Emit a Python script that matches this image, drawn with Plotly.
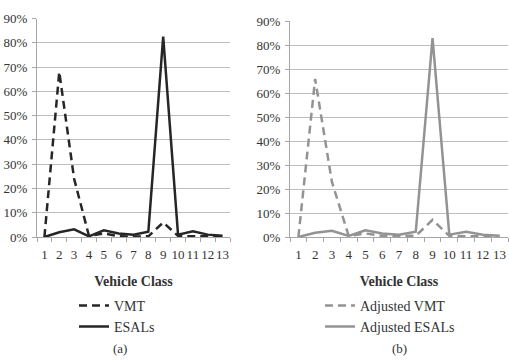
import plotly.graph_objects as go

classes = list(range(1, 14))
class_labels = [str(c) for c in classes]
vmt = [0.0, 68.0, 24.0, 0.5, 1.5, 0.3, 0.2, 0.3, 6.0, 0.5, 0.3, 0.2, 0.3]
esals = [0.0, 2.0, 3.2, 0.3, 2.8, 1.5, 1.0, 2.2, 82.5, 1.0, 2.4, 1.0, 0.5]
adj_vmt = [0.0, 66.0, 23.0, 0.5, 1.5, 0.5, 0.5, 0.5, 7.2, 0.5, 0.3, 0.2, 0.3]
adj_esals = [0.0, 1.8, 2.6, 0.5, 2.8, 1.5, 1.0, 2.2, 83.0, 1.0, 2.2, 1.0, 0.5]
y_ticks = [0, 10, 20, 30, 40, 50, 60, 70, 80, 90]

W, H = 509, 362
FONT = "Liberation Serif"
dark = "#262626"
gray = "#939393"
txt = "#333333"

fig = go.Figure()
fig.add_trace(go.Scatter(x=classes, y=[v / 100 for v in vmt], mode="lines", name="VMT",
                         line=dict(color=dark, width=2.5, dash="8px,5px"), xaxis="x", yaxis="y", legend="legend"))
fig.add_trace(go.Scatter(x=classes, y=[v / 100 for v in esals], mode="lines", name="ESALs",
                         line=dict(color=dark, width=2.5), xaxis="x", yaxis="y", legend="legend"))
fig.add_trace(go.Scatter(x=classes, y=[v / 100 for v in adj_vmt], mode="lines", name="Adjusted VMT",
                         line=dict(color=gray, width=2.5, dash="8px,5px"), xaxis="x2", yaxis="y2", legend="legend2"))
fig.add_trace(go.Scatter(x=classes, y=[v / 100 for v in adj_esals], mode="lines", name="Adjusted ESALs",
                         line=dict(color=gray, width=2.5), xaxis="x2", yaxis="y2", legend="legend2"))

def xax(domain, anchor):
    return dict(domain=domain, anchor=anchor, range=[0.5, 13.5], tickmode="array",
                tickvals=classes, ticktext=class_labels, ticks="", showgrid=False, tickangle=0,
                showline=True, linecolor="#a6a6a6", linewidth=1, zeroline=False,
                tickfont=dict(family=FONT, size=13, color=txt), ticklabelstandoff=5,
                minor=dict(tickmode="linear", tick0=0.5, dtick=1, ticks="outside", ticklen=4,
                           tickcolor="#a6a6a6", showgrid=False),
                title=dict(text="<b>Vehicle Class</b>", font=dict(family=FONT, size=14, color=txt), standoff=15),
                fixedrange=True)

def yax(domain, anchor):
    return dict(domain=domain, anchor=anchor, range=[0, 0.9], tickmode="array",
                tickvals=[t / 100 for t in y_ticks], ticktext=[f"{t}%" for t in y_ticks],
                ticks="outside", ticklen=4, tickcolor="#a6a6a6", showgrid=True, gridcolor="#bdbdbd",
                gridwidth=1, showline=True, linecolor="#a6a6a6", linewidth=1, zeroline=False,
                tickfont=dict(family=FONT, size=13, color=txt), ticklabelstandoff=2, fixedrange=True)

fig.update_layout(
    width=W, height=H, margin=dict(l=0, r=0, t=0, b=0),
    paper_bgcolor="white", plot_bgcolor="white",
    xaxis=xax([37 / W, 230 / W], "y"),
    yaxis=yax([1 - 240 / H, 1 - 12 / H], "x"),
    xaxis2=xax([290 / W, 508 / W], "y2"),
    yaxis2=yax([1 - 240 / H, 1 - 15 / H], "x2"),
    legend=dict(x=74 / W, y=1 - 295 / H, xanchor="left", yanchor="top", bgcolor="rgba(0,0,0,0)",
                font=dict(family=FONT, size=14, color=txt), tracegroupgap=0, itemwidth=30),
    legend2=dict(x=320 / W, y=1 - 295 / H, xanchor="left", yanchor="top", bgcolor="rgba(0,0,0,0)",
                 font=dict(family=FONT, size=14, color=txt), tracegroupgap=0, itemwidth=30),
    annotations=[
        dict(text="(a)", x=120 / W, y=1 - 356 / H, xref="paper", yref="paper", showarrow=False,
             xanchor="center", yanchor="middle", font=dict(family=FONT, size=13, color=txt)),
        dict(text="(b)", x=399 / W, y=1 - 356 / H, xref="paper", yref="paper", showarrow=False,
             xanchor="center", yanchor="middle", font=dict(family=FONT, size=13, color=txt)),
    ],
)

fig.write_html("out.html")
